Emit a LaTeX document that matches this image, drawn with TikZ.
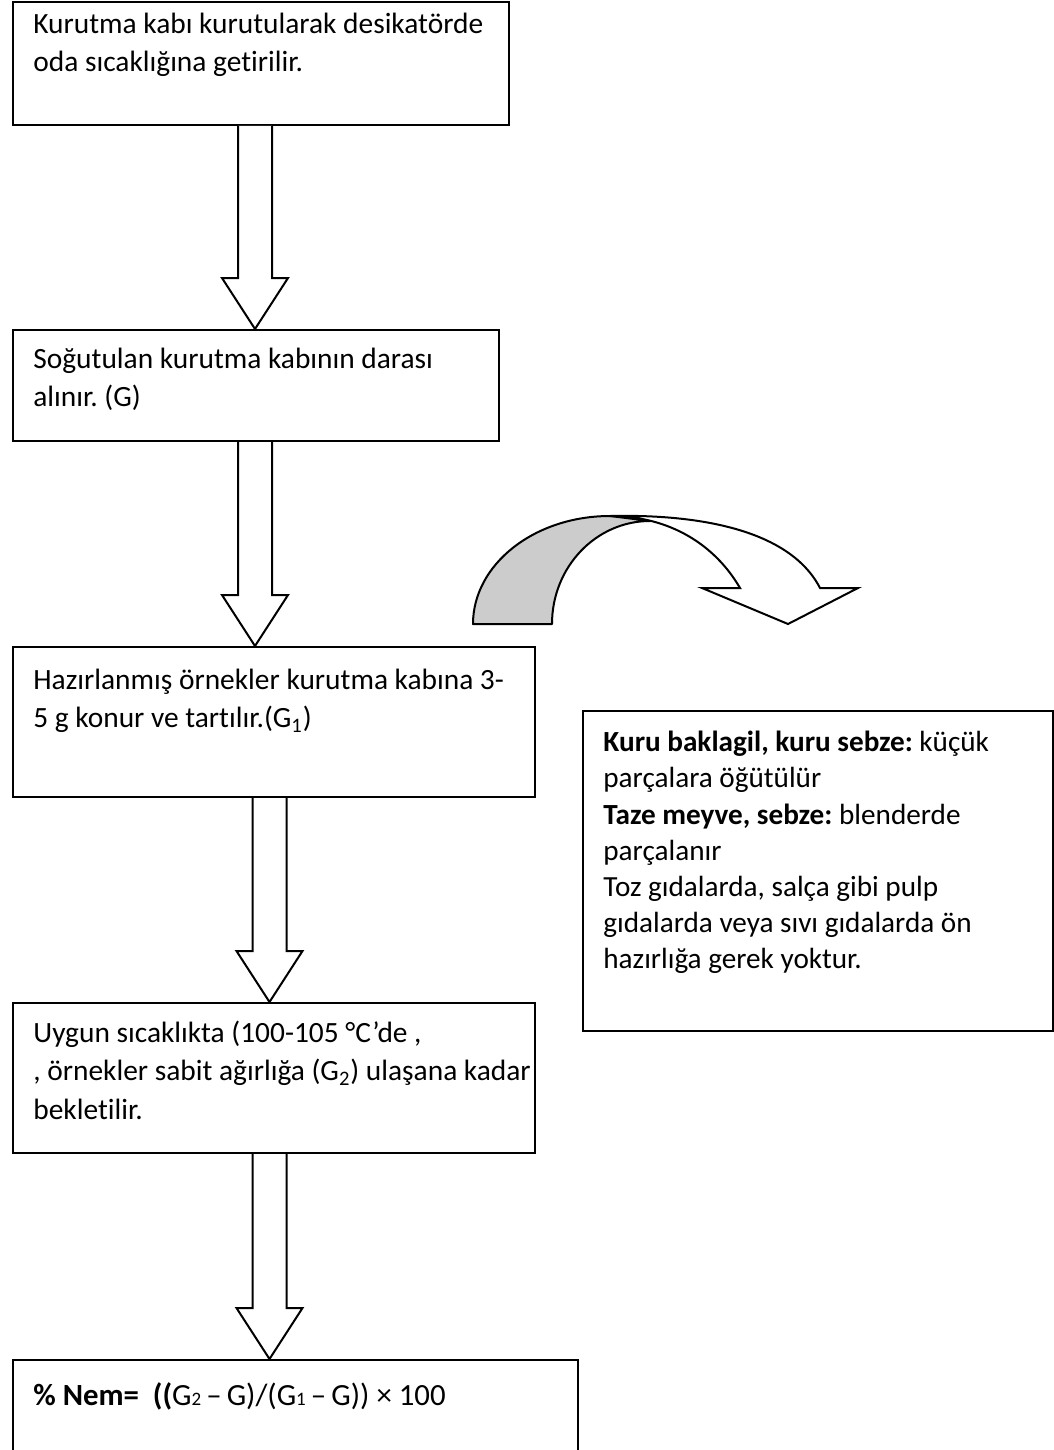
\documentclass[tikz,border=0pt]{standalone}
\usepackage{fontspec}
\setmainfont{Carlito}[Ligatures=NoCommon]
\usetikzlibrary{calc}
\frenchspacing
\tikzset{
  box/.style={draw=black, line width=1pt, anchor=north west, inner sep=0pt, fill=white},
  txt/.style={anchor=north west, inner sep=0pt, align=left, font=\fontsize{14.7}{19.25}\selectfont},
  sidetxt/.style={anchor=north west, inner sep=0pt, align=left, font=\fontsize{14.6}{18.1}\selectfont},
  formtxt/.style={anchor=north west, inner sep=0pt, align=left, font=\fontsize{15.4}{19.25}\selectfont},
  blk/.style={draw=black, line width=1pt, fill=white, line join=miter},
  curvg/.style={draw=black, line width=1pt, fill=black!20, line join=round},
  curvw/.style={draw=black, line width=1pt, fill=white, line join=miter},
}
\newcommand{\blkarrow}[3]{%
  \draw[blk] let \p1=(#1.south), \p2=(#2.north), \p3=(#3,0) in
    (\x3-8.5pt,\y1) -- (\x3-8.5pt,\y2+25.5pt) -- (\x3-16.5pt,\y2+25.5pt) -- (\x3,\y2)
    -- (\x3+16.5pt,\y2+25.5pt) -- (\x3+8.5pt,\y2+25.5pt) -- (\x3+8.5pt,\y1);}
\begin{document}
\begin{tikzpicture}[x=0.5pt,y=-0.5pt]
\useasboundingbox (0,0) rectangle (1054,1450);
% boxes
\node[box, minimum width=248pt, minimum height=61.5pt] (b1) at (12,1) {};
\node[box, minimum width=243pt, minimum height=55.5pt] (b2) at (12,329) {};
\node[box, minimum width=261pt, minimum height=75pt] (b3) at (12,646) {};
\node[box, minimum width=261pt, minimum height=75pt] (b4) at (12,1002) {};
\node[box, minimum width=282.5pt, minimum height=60pt] (b5) at (12,1359) {};
\node[box, minimum width=235pt, minimum height=160pt] (side) at (582,710) {};
% texts (north west = baseline - strut height)
\node[txt] (t1) at (33,6) {\strut Kurutma kabı kurutularak desikatörde\\oda sıcaklığına getirilir.};
\node[txt] (t2) at (33,341) {\strut Soğutulan kurutma kabının darası\\alınır. (G)};
\node[txt] (t3) at (33,662) {\strut Hazırlanmış örnekler kurutma kabına 3-\\5 g konur ve tartılır.(G\textsubscript{1})};
\node[txt] (t4) at (33,1015) {\strut Uygun sıcaklıkta (100-105 °C’de ,\\, örnekler sabit ağırlığa (G\textsubscript{2}) ulaşana kadar\\bekletilir.};
\node[formtxt] (t5) at (33,1378) {\strut\textbf{\% Nem=~ ((}G{\fontsize{9.5}{9.5}\selectfont 2}\,–\,G)/(G{\fontsize{9.5}{9.5}\selectfont 1}\,–\,G)) × 100};
\node[sidetxt] (ts) at (603,726) {\strut\textbf{Kuru baklagil, kuru sebze:} küçük\\parçalara öğütülür\\\textbf{Taze meyve, sebze:} blenderde\\parçalanır\\Toz gıdalarda, salça gibi pulp\\gıdalarda veya sıvı gıdalarda ön\\hazırlığa gerek yoktur.};
% block arrows
\blkarrow{b1}{b2}{255}
\blkarrow{b2}{b3}{255}
\blkarrow{b3}{b4}{269.5}
\blkarrow{b4}{b5}{269.5}
% curved arrow
\draw[curvg] (473,624) .. controls (473,564.4) and (534.3,516) .. (610,516)
  -- (650,521) .. controls (595.9,521) and (552,567.1) .. (552,624) -- cycle;
\draw[curvw] (610,516) .. controls (700,514) and (790,530) .. (820,588)
  -- (858,588) -- (788,624) -- (702,588) -- (740,588)
  .. controls (715,545) and (670,516) .. (610,516) -- cycle;
\end{tikzpicture}
\end{document}
